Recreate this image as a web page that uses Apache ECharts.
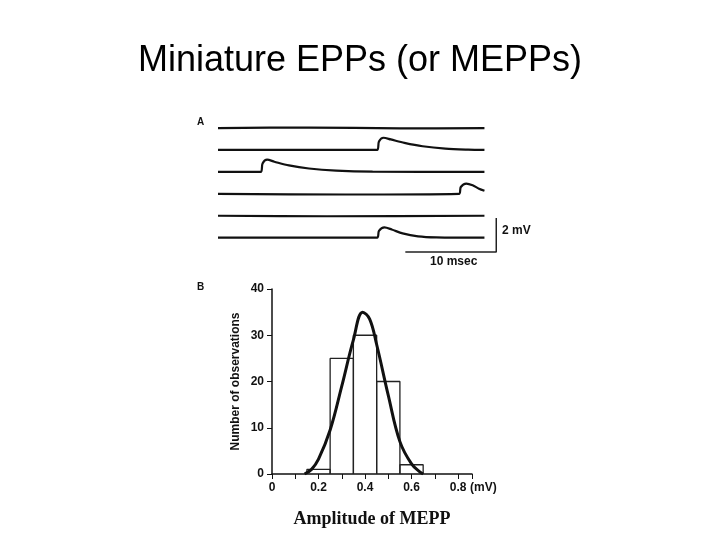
<!DOCTYPE html>
<html>
<head>
<meta charset="utf-8">
<title>Miniature EPPs</title>
<script src="https://cdn.jsdelivr.net/npm/echarts@6/dist/echarts.min.js"></script>
<style>html,body{margin:0;background:#fff}#main{width:720px;height:540px}</style>
</head>
<body>
<div id="main"></div>
<script>
// panel A: traces (msec, mV relative to own baseline)
var traceSpacing = 1.29;
var trace1 = [[0, 0], [10, 0.03], [20, -0.02], [29.3, 0]];
var trace2 = [[0, 0], [17.5, 0], [17.7, 0.5], [18.2, 0.72], [19, 0.62], [20.5, 0.42], [22.5, 0.22], [25, 0.08], [27.5, 0.02], [29.3, 0]];
var trace3 = [[0, 0], [4.7, 0], [4.9, 0.5], [5.4, 0.72], [6.2, 0.6], [7.8, 0.38], [10, 0.2], [13, 0.08], [17, 0.02], [29.3, 0]];
var trace4 = [[0, 0], [14, -0.04], [26.5, 0], [26.7, 0.4], [27.3, 0.6], [28, 0.5], [28.7, 0.3], [29.3, 0.18]];
var trace5 = [[0, 0], [12, -0.03], [29.3, 0]];
var trace6 = [[0, 0], [17.5, 0], [17.7, 0.4], [18.3, 0.6], [19.1, 0.48], [20.3, 0.25], [22, 0.08], [24, 0.02], [29.3, 0]];
var traces = [trace1, trace2, trace3, trace4, trace5, trace6];
var scaleBar = [[30.6, -5.29], [30.6, -7.29], [20.6, -7.29]];

// panel B: histogram
var binEdges = [0.15, 0.25, 0.35, 0.45, 0.55, 0.65];
var binCounts = [1, 25, 30, 20, 2];
var fitCurve = [[0.14, 0], [0.17, 1], [0.2, 3.2], [0.25, 9.5], [0.3, 19], [0.35, 29], [0.39, 35], [0.42, 33.5], [0.45, 28], [0.5, 17], [0.55, 7], [0.6, 2.2], [0.64, 0.3], [0.65, 0]];
var xTicksB = [0, 0.2, 0.4, 0.6, 0.8];

var histLines = [];
binCounts.forEach(function (c, i) {
    histLines.push([[binEdges[i], 0], [binEdges[i], c], [binEdges[i + 1], c], [binEdges[i + 1], 0]]);
});

var series = [];
traces.forEach(function (t, i) {
    series.push({
        type: 'line', xAxisIndex: 0, yAxisIndex: 0, symbol: 'none', smooth: 0.3,
        lineStyle: {color: '#111', width: 2.2},
        data: t.map(function (p) { return [p[0], p[1] - i * traceSpacing]; })
    });
});
series.push({type: 'line', xAxisIndex: 0, yAxisIndex: 0, symbol: 'none',
    lineStyle: {color: '#222', width: 1.5}, data: scaleBar});
histLines.forEach(function (h) {
    series.push({type: 'line', xAxisIndex: 1, yAxisIndex: 1, symbol: 'none',
        lineStyle: {color: '#222', width: 1.3}, data: h});
});
series.push({type: 'line', xAxisIndex: 1, yAxisIndex: 1, symbol: 'none', smooth: 0.4,
    lineStyle: {color: '#111', width: 3}, data: fitCurve, z: 5});

var chart = echarts.init(document.getElementById('main'));
chart.setOption({
    animation: false,
    title: {text: 'Miniature EPPs (or MEPPs)', left: 'center', top: 38,
        textStyle: {fontFamily: 'Liberation Sans, Arial', fontSize: 36, fontWeight: 'normal', color: '#000'}},
    graphic: [
        {type: 'text', left: 197, top: 117, style: {text: 'A', font: 'bold 10px Liberation Sans', fill: '#111'}},
        {type: 'text', left: 197, top: 282, style: {text: 'B', font: 'bold 10px Liberation Sans', fill: '#111'}},
        {type: 'text', left: 502, top: 225, style: {text: '2 mV', font: 'bold 12px Liberation Sans', fill: '#111'}},
        {type: 'text', left: 430, top: 256, style: {text: '10 msec', font: 'bold 12px Liberation Sans', fill: '#111'}},
        {type: 'text', left: 470, top: 482, style: {text: '(mV)', font: 'bold 12px Liberation Sans', fill: '#111'}}
    ],
    grid: [
        {left: 218, top: 108, width: 291, height: 157},
        {left: 272, top: 289, width: 200, height: 185}
    ],
    xAxis: [
        {gridIndex: 0, type: 'value', min: 0, max: 32, show: false},
        {gridIndex: 1, type: 'value', min: 0, max: 0.86, interval: 0.1,
            axisLine: {lineStyle: {color: '#111', width: 1.5}},
            axisTick: {inside: false, length: 5, lineStyle: {color: '#111'}},
            splitLine: {show: false},
            axisLabel: {color: '#111', fontSize: 12, fontWeight: 'bold', fontFamily: 'Liberation Sans',
                customValues: xTicksB,
                formatter: function (v) { return v === 0 ? '0' : v.toFixed(1); }},
            name: 'Amplitude of MEPP', nameLocation: 'middle', nameGap: 36,
            nameTextStyle: {fontFamily: 'Liberation Serif', fontSize: 18, fontWeight: 'bold', color: '#111'}}
    ],
    yAxis: [
        {gridIndex: 0, type: 'value', min: -8.06, max: 1.18, show: false},
        {gridIndex: 1, type: 'value', min: 0, max: 40, interval: 10,
            axisLine: {show: true, lineStyle: {color: '#111', width: 1.5}},
            axisTick: {show: true, length: 5, lineStyle: {color: '#111'}},
            splitLine: {show: false},
            axisLabel: {color: '#111', fontSize: 12, fontWeight: 'bold', fontFamily: 'Liberation Sans', margin: 8},
            name: 'Number of observations', nameLocation: 'middle', nameGap: 30,
            nameTextStyle: {fontFamily: 'Liberation Sans', fontSize: 12, fontWeight: 'bold', color: '#111'}}
    ],
    series: series
});
</script>
</body>
</html>
